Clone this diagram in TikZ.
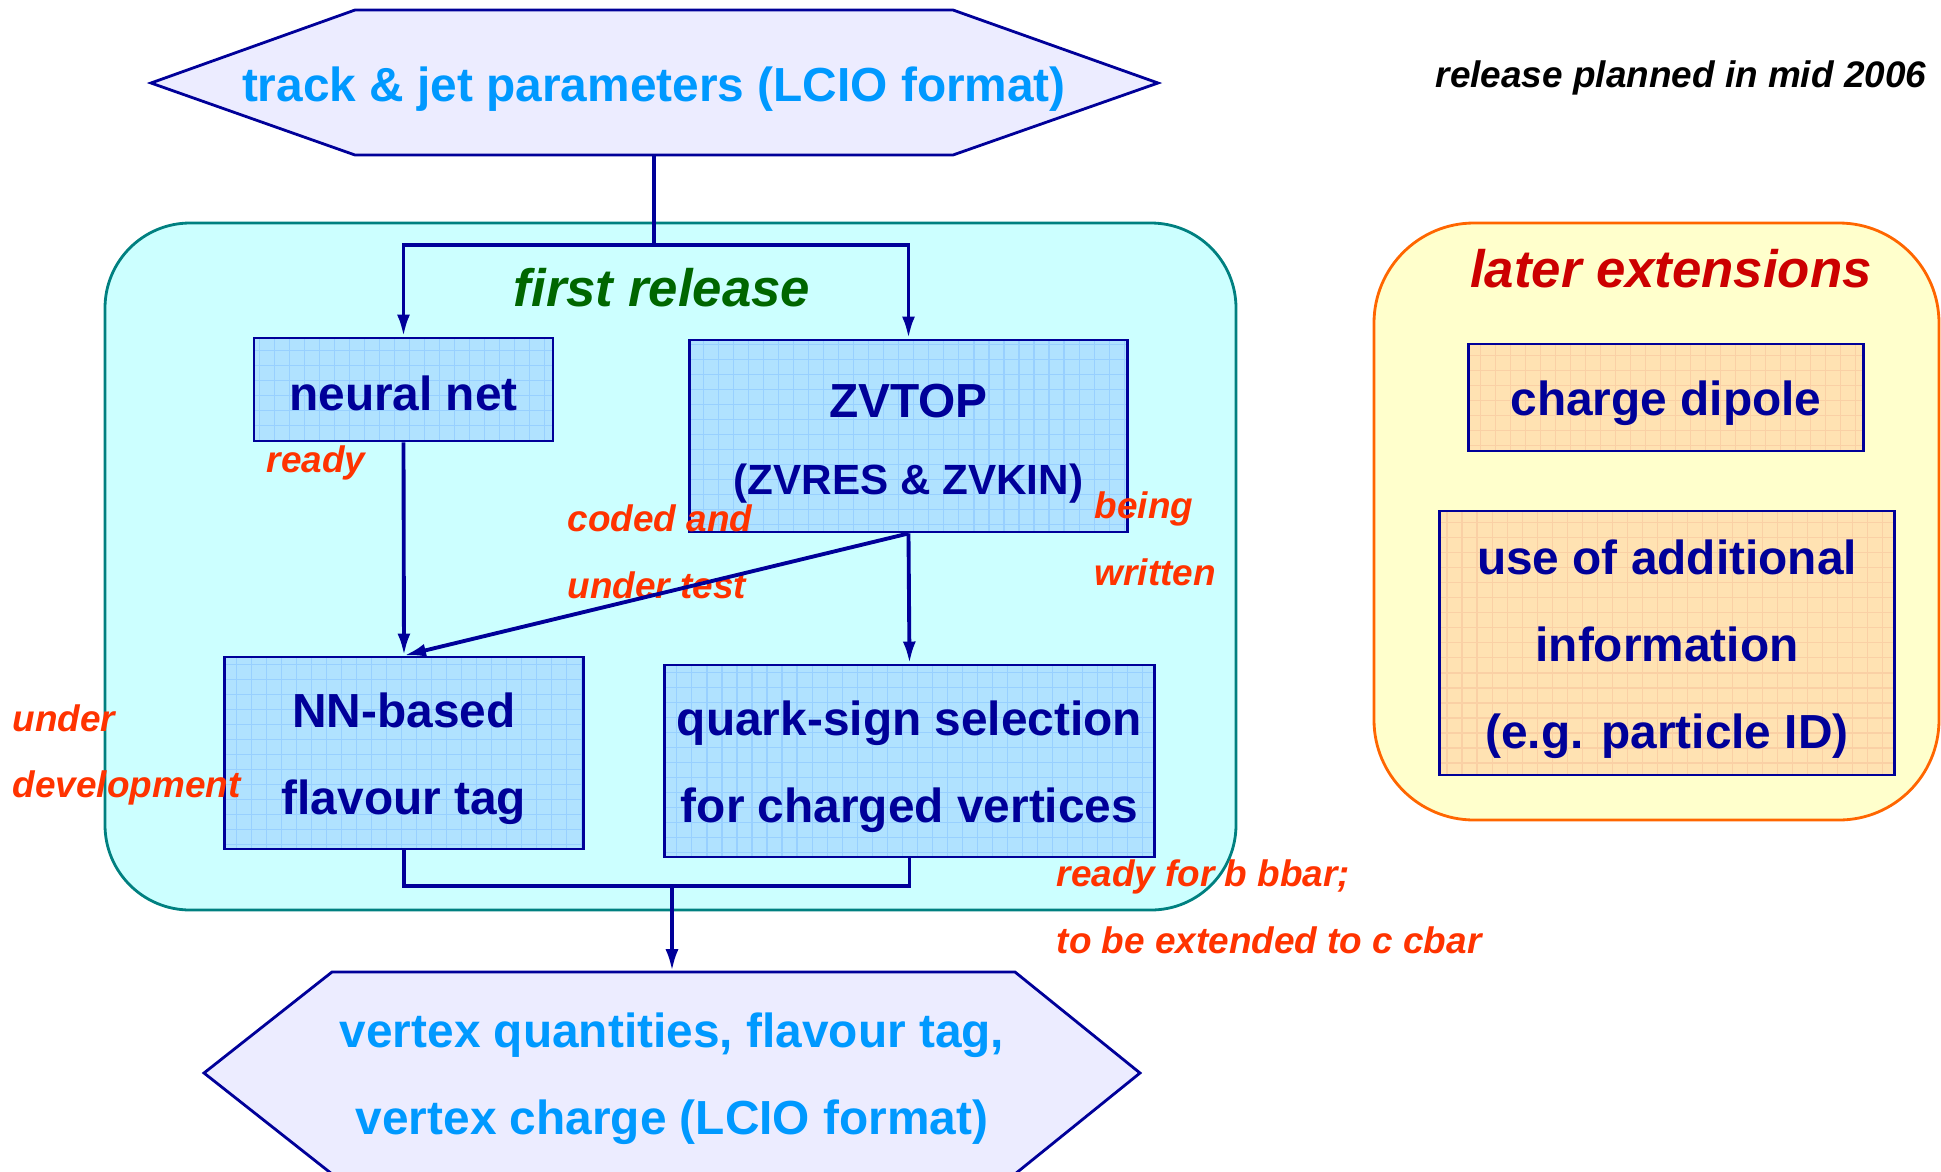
\documentclass[tikz,border=0pt]{standalone}
\usepackage{fontspec}
\setmainfont{Liberation Sans}
\usetikzlibrary{arrows.meta,positioning}

\definecolor{navy}{RGB}{0,0,153}
\definecolor{skyblue}{RGB}{0,153,255}
\definecolor{hexfill}{RGB}{236,236,255}
\definecolor{cyanfill}{RGB}{204,255,255}
\definecolor{tealline}{RGB}{0,128,128}
\definecolor{boxfill}{RGB}{176,226,255}
\definecolor{boxgrid}{RGB}{152,208,255}
\definecolor{yelfill}{RGB}{255,255,204}
\definecolor{orline}{RGB}{255,102,0}
\definecolor{peach}{RGB}{255,226,178}
\definecolor{peachgrid}{RGB}{250,208,165}
\definecolor{relgreen}{RGB}{0,102,0}
\definecolor{extred}{RGB}{204,0,0}
\definecolor{notered}{RGB}{255,51,0}

% strut that pushes the first line of a box down a little
\newcommand\lift{\rule{0pt}{13.2pt}}

\begin{document}
\begin{tikzpicture}[
  x=0.01cm, y=-0.01cm,
  box/.style={draw=navy, line width=0.8pt, fill=boxfill, text=navy, align=center, inner sep=0pt,
    font=\fontsize{13.6}{24.7}\selectfont\bfseries, gridtex=boxgrid},
  extbox/.style={box, fill=peach, gridtex=peachgrid},
  gridtex/.style={path picture={\draw[#1, line width=0.3pt] (path picture bounding box.south west)
    grid[step=0.15cm] (path picture bounding box.north east);}},
  hexline/.style={draw=navy, line width=0.8pt, fill=hexfill},
  hextext/.style={text=skyblue, align=center, inner sep=0pt, font=\fontsize{13.6}{24.7}\selectfont\bfseries},
  group/.style={rounded corners=0.85cm, line width=0.8pt},
  title/.style={inner sep=0pt, font=\fontsize{15}{18}\selectfont\bfseries\itshape},
  note/.style={text=notered, anchor=west, align=left, inner sep=0pt, font=\fontsize{10.5}{19}\selectfont\bfseries\itshape},
  wire/.style={draw=navy, line width=1.1pt},
  flow/.style={wire, -{Latex[length=2.2mm,width=1.3mm]}}
]
\useasboundingbox (0,0) rectangle (1941,1172);

% containers
\draw[group, draw=tealline, fill=cyanfill] (105,223) rectangle (1236,910);
\draw[group, draw=orline, fill=yelfill, rounded corners=1cm] (1374,223) rectangle (1939,820);

% input / output hexagons
\draw[hexline] (151,83) -- (355,10) -- (953,10) -- (1158,83) -- (953,155) -- (355,155) -- cycle;
\draw[hexline] (204,1073) -- (332,972) -- (1015,972) -- (1140,1073) -- (1015,1174) -- (332,1174) -- cycle;

\node[hextext, minimum height=1.45cm] (src) at (654,83) {\lift track \& jet parameters (LCIO format)};
\node[hextext, minimum height=2.02cm] (tgt) at (672,1073) {\lift vertex quantities, flavour tag,\\ vertex charge (LCIO format)};

% first release
\node[title, text=relgreen] (first) at (662,288) {first release};
\node[box, minimum width=2.99cm, minimum height=1.03cm] (nn) at (403.5,389.5) {\rule{0pt}{12pt}neural net};
\node[box, minimum width=4.37cm, minimum height=1.92cm, font=\fontsize{13.6}{22}\selectfont\bfseries] (zv) at (908.5,436)
  {\rule{0pt}{13.7pt}ZVTOP\\ {\fontsize{12}{14}\selectfont (ZVRES \& ZVKIN)}};
\node[box, minimum width=3.58cm, minimum height=1.92cm] (nnb) at (404,753) {\lift NN-based\\ flavour tag};
\node[box, minimum width=4.89cm, minimum height=1.92cm] (qs) at (909.5,761) {\lift quark-sign selection\\ for charged vertices};

% later extensions
\node[title, text=extred] (later) at (1671,269) {later extensions};
\node[extbox, minimum width=3.94cm, minimum height=1.07cm] (dip) at (1666,397.5) {\lift charge dipole};
\node[extbox, minimum width=4.54cm, minimum height=2.64cm] (pid) at (1667,643)
  {\lift use of additional\\ information\\ (e.g. particle ID)};

\node[inner sep=0pt, anchor=west, font=\fontsize{10.5}{13}\selectfont\bfseries\itshape] (plan) at (1435,78)
  {release planned in mid 2006};

% status notes
\node[note] (rdy) at (266,463) {ready};
\node[note] (cod) at (567,552) {coded and\\ under test};
\node[note] (bng) at (1094,539) {being\\ written};
\node[note] (dev) at (12,755) {under\\ development};
\node[note] (bbar) at (1056,907) {ready for b bbar;\\ to be extended to c cbar};

% flow
\coordinate (split) at (654,245);
\coordinate (merge) at (672,886);
\draw[wire] (src.south) -- (split);
\draw[flow] (split) -| (nn.north);
\draw[flow] (split) -| (zv.north);
\draw[flow] (nn.south) -- (nnb.north);
\draw[flow] (zv.south) -- (qs.north);
\draw[flow] (zv.south) -- (nnb.north);
\draw[wire] (nnb.south) -- (nnb.south |- merge) -- (qs.south |- merge) -- (qs.south);
\draw[flow] (merge) -- (tgt.north);
\end{tikzpicture}
\end{document}
